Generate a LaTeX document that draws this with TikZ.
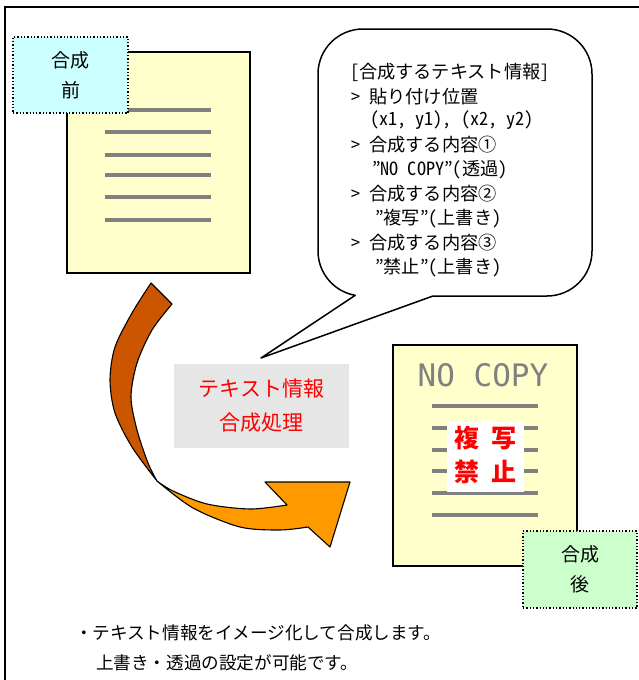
\documentclass[tikz,border=0pt]{standalone}
\usepackage{fontspec}
\newfontfamily\jp{Noto Sans CJK JP}
\newfontfamily\jphw{Noto Sans CJK JP}[RawFeature=+hwid]
\newfontfamily\monofnt{DejaVu Sans Mono}
\definecolor{docfill}{HTML}{FFFFCC}
\definecolor{cyanfill}{HTML}{CCFFFF}
\definecolor{greenfill}{HTML}{CCFFCC}
\definecolor{linegray}{HTML}{808080}
\definecolor{boxgray}{HTML}{E6E6E6}
\definecolor{darkorange}{HTML}{CC5500}
\definecolor{brightorange}{HTML}{FF9900}
\begin{document}
\begin{tikzpicture}[x=1pt,y=-1pt,
  every node/.style={inner sep=0pt,outer sep=0pt},
  doc/.style={draw=black,fill=docfill,line width=1.5pt},
  labelbox/.style={draw=black,dotted,line width=1.3pt,align=center,
    font=\jp\fontsize{19}{30}\selectfont},
  textline/.style={draw=linegray,line width=4pt},
  bubbletext/.style={anchor=west,font=\jphw\fontsize{18.2}{20}\selectfont},
  bottomtext/.style={anchor=west,font=\jp\fontsize{17.6}{20}\selectfont},
  arrowedge/.style={draw=black,line width=1.1pt,line join=round}]
\useasboundingbox (0,0) rectangle (639,680);
\fill[white] (0,0) rectangle (639,680);
% frame (top and left only)
\draw[line width=2pt] (5,680) -- (5,7) -- (639,7);

% left document
\node[doc,minimum width=183pt,minimum height=221pt] (docA) at (158.5,162.5) {};
\foreach \yy in {110,132,155,175,197,220}
  \draw[textline] (105,\yy) -- (211,\yy);
\node[labelbox,fill=cyanfill,minimum width=115pt,minimum height=76pt] (labA) at (70.5,75) {合成\\前};

% speech bubble
\draw[line width=1.5pt,fill=white,line join=round]
  (433,296) -- (547,296) arc[start angle=90,end angle=0,radius=45]
  -- (592,74) arc[start angle=0,end angle=-90,radius=45]
  -- (363,29) arc[start angle=-90,end angle=-180,radius=45]
  -- (318,251) arc[start angle=180,end angle=100,radius=45]
  -- (261,358) -- cycle;
\coordinate (tailtip) at (261,358);
\node[bubbletext] (b1) at (350,72) {[合成するテキスト情報]};
\node[bubbletext] (b2) at (351,97) {> 貼り付け位置};
\node[bubbletext] (b3) at (370,120) {(x1, y1), (x2, y2)};
\node[bubbletext] (b4) at (351,145) {> 合成する内容①};
\node[bubbletext] (b5) at (372,170) {”NO COPY”(透過)};
\node[bubbletext] (b6) at (351,194) {> 合成する内容②};
\node[bubbletext] (b7) at (375,219) {”複写”(上書き)};
\node[bubbletext] (b8) at (351,243) {> 合成する内容③};
\node[bubbletext] (b9) at (375,268) {”禁止”(上書き)};

% curved arrow: dark back part
\path[arrowedge,fill=darkorange]
  (151,283) -- (172,304)
  -- plot[smooth] coordinates {(172,304) (152,330) (137,363) (131,397) (137,430) (148,463) (157,481)}
  -- plot[smooth] coordinates {(157,481) (132,447) (115,413) (110,380) (115,347) (132,313) (151,283)}
  -- cycle;
% curved arrow: bright front part with head
\path[arrowedge,fill=brightorange]
  (157,481)
  -- plot[smooth] coordinates {(157,481) (173,491) (207,504) (250,509) (287,505)}
  -- (265,482) -- (350,482) -- (330,547) -- (308,527)
  -- plot[smooth] coordinates {(308,527) (280,530) (240,527) (193,508) (157,481)}
  -- cycle;

% processing box
\node[fill=boxgray,minimum width=175pt,minimum height=84pt,align=center,
  text=red,font=\jp\fontsize{21}{34}\selectfont] (proc) at (261.5,406) {テキスト情報\\合成処理};

% right document
\node[doc,line width=2pt,minimum width=184pt,minimum height=221pt] (docB) at (485,455.5) {};
\node[text=linegray,font=\monofnt\fontsize{31}{31}\selectfont] (nocopy) at (483,375) {NO COPY};
\foreach \yy in {406,428,450,471,493,515}
  \draw[textline] (432,\yy) -- (538,\yy);
\node[fill=white,minimum width=77pt,minimum height=71pt] (stamp) at (485.5,456.5) {};
\node[text=red,font=\jp\bfseries\fontsize{25}{25}\selectfont] (s1) at (485.5,438) {複\hspace{12pt}写};
\node[text=red,font=\jp\bfseries\fontsize{25}{25}\selectfont] (s2) at (485.5,472) {禁\hspace{12pt}止};
\node[labelbox,fill=greenfill,minimum width=114pt,minimum height=77pt] (labB) at (580,569.5) {合成\\後};

% bottom notes
\node[bottomtext] (n1) at (75,633) {・テキスト情報をイメージ化して合成します。};
\node[bottomtext] (n2) at (96,663) {上書き・透過の設定が可能です。};
\end{tikzpicture}
\end{document}
